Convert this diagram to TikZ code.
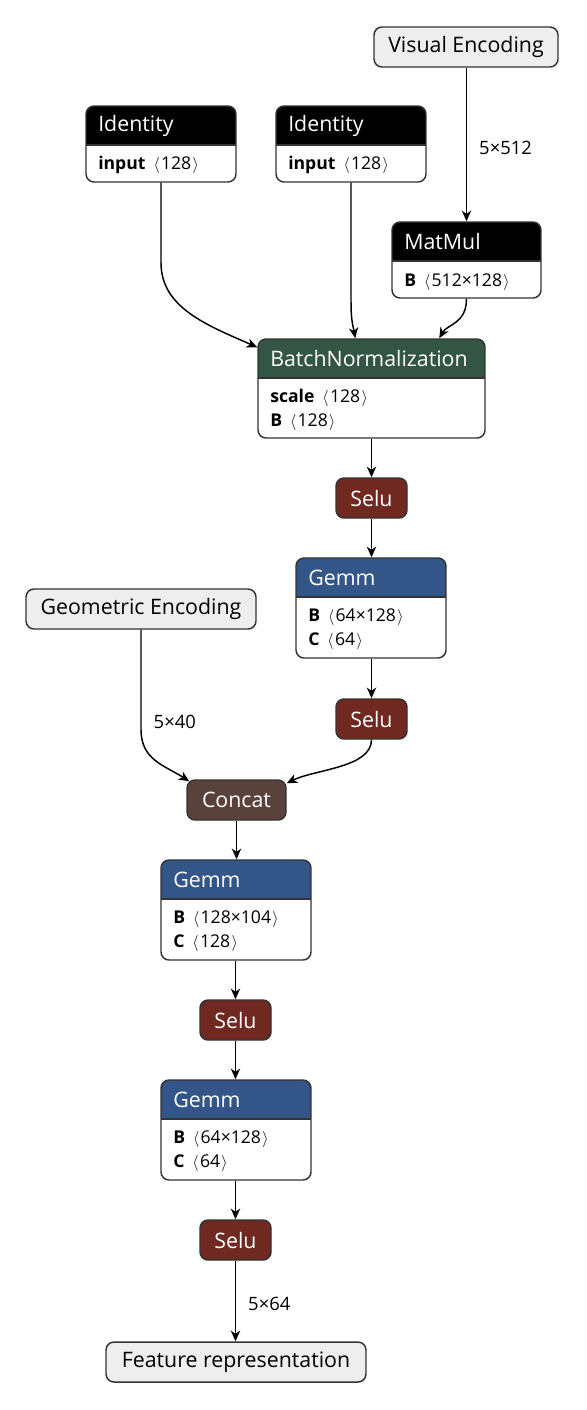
\documentclass[tikz,border=0pt]{standalone}
\usepackage{fontspec}
\setmainfont{Open Sans}
\usetikzlibrary{arrows.meta,fit,calc}
\definecolor{bord}{HTML}{333333}
\definecolor{inbg}{HTML}{EEEEEE}
\definecolor{layer}{RGB}{51,85,136}
\definecolor{norm}{RGB}{51,85,68}
\definecolor{act}{RGB}{112,41,33}
\definecolor{tens}{RGB}{89,66,59}
\newcommand\ttlfont{\fontsize{16}{19}\selectfont}
\newcommand\attfont{\fontsize{13.2}{16}\selectfont}
\newcommand\lblfont{\fontsize{13.8}{16}\selectfont}
\newcommand\lbr{\hspace{6pt}$\langle$\hspace{1pt}}
\newcommand\rbr{\hspace{1pt}$\rangle$}
% name x1 y1 x2 y2 color title
\newcommand\opbox[7]{%
  \fill[white, rounded corners=6pt] (#2,#3) rectangle (#4,#5);
  \begin{scope}
    \clip[rounded corners=6pt] (#2,#3) rectangle (#4,#5);
    \fill[#6] (#2,#3) rectangle (#4,{#3+39});
  \end{scope}
  \draw[bord, line width=1.1pt] (#2,{#3+39}) -- (#4,{#3+39});
  \node[boxline, fit={(#2,#3) (#4,#5)}] (#1) {};
  \node[ttl] at ({#2+12},{#3+19.5}) {#7};
}
% name x1 y1 x2 y2 color text color
\newcommand\smallbox[8]{%
  \node[boxline, fill=#6, fit={(#2,#3) (#4,#5)}] (#1) {};
  \node[font=\ttlfont, text=#8, inner sep=0] at (#1.center) {#7};
}
\tikzset{
  boxline/.style={draw=bord, line width=1.1pt, rounded corners=6pt, inner sep=0pt},
  ttl/.style={text=white, font=\ttlfont, anchor=west, inner sep=0pt},
  att/.style={text=black, font=\attfont, anchor=west, inner sep=0pt},
  edge/.style={draw=black, line width=1.1pt, -{Stealth[length=8pt,width=7pt,inset=2.5pt]}},
  elabel/.style={font=\lblfont, inner sep=0pt, anchor=west},
}
\begin{document}
\begin{tikzpicture}[x=0.75pt,y=-0.75pt]
\useasboundingbox (0,0) rectangle (586,1410);
\fill[white] (0,0) rectangle (586,1410);

% inputs
\smallbox{vis}{374}{27}{558}{67}{inbg}{Visual Encoding}{black}
\smallbox{geo}{26}{589}{256}{629}{inbg}{Geometric Encoding}{black}
\smallbox{feat}{106}{1342}{366}{1382}{inbg}{Feature representation}{black}

% op boxes
\opbox{id1}{86}{106}{236}{182}{black}{Identity}
\node[att] at (98,165) {\textbf{input}\lbr128\rbr};
\opbox{id2}{276}{106}{426}{182}{black}{Identity}
\node[att] at (288,165) {\textbf{input}\lbr128\rbr};
\opbox{mm}{392}{222}{541}{298}{black}{MatMul}
\node[att] at (404,282) {\textbf{B}\lbr512×128\rbr};
\opbox{bn}{258}{339}{485}{438}{norm}{BatchNormalization}
\node[att] at (270,398) {\textbf{scale}\lbr128\rbr};
\node[att] at (270,422) {\textbf{B}\lbr128\rbr};
\smallbox{s1}{336}{478}{407}{518}{act}{Selu}{white}
\opbox{g1}{296}{558}{446}{658}{layer}{Gemm}
\node[att] at (308,617) {\textbf{B}\lbr64×128\rbr};
\node[att] at (308,641) {\textbf{C}\lbr64\rbr};
\smallbox{s2}{336}{699}{407}{739}{act}{Selu}{white}
\smallbox{cat}{187}{780}{286}{820}{tens}{Concat}{white}
\opbox{g2}{161}{860}{311}{960}{layer}{Gemm}
\node[att] at (173,919) {\textbf{B}\lbr128×104\rbr};
\node[att] at (173,943) {\textbf{C}\lbr128\rbr};
\smallbox{s3}{200}{1000}{271}{1040}{act}{Selu}{white}
\opbox{g3}{161}{1080}{311}{1180}{layer}{Gemm}
\node[att] at (173,1139) {\textbf{B}\lbr64×128\rbr};
\node[att] at (173,1163) {\textbf{C}\lbr64\rbr};
\smallbox{s4}{200}{1220}{271}{1260}{act}{Selu}{white}

% edges
\draw[edge] (vis.south -| mm.north) -- node[elabel, pos=0.52, xshift=9pt] {5×512} (mm.north);
\draw[edge] (id1.south) -- ++(0,80) .. controls +(0,45) and +(-50,-22) .. ($(bn.north west)+(0,9)$);
\draw[edge] (id2.south) -- ++(0,118) .. controls +(0,22) and +(-2,-12) .. ($(bn.north west)+(98,0)$);
\draw[edge] (mm.south) .. controls +(0,25) and +(8,-14) .. ($(bn.north west)+(182,0)$);
\draw[edge] (bn.south -| s1.north) -- (s1.north);
\draw[edge] (s1.south) -- (s1.south |- g1.north);
\draw[edge] (g1.south -| s2.north) -- (s2.north);
\draw[edge] (geo.south) -- ++(0,100) node[elabel, pos=0.92, xshift=9pt] {5×40} .. controls +(0,30) and +(-25,-16) .. ($(cat.north west)+(3,2)$);
\draw[edge] (s2.south) .. controls +(0,28) and +(28,-14) .. ($(cat.north east)+(0,4)$);
\draw[edge] (cat.south) -- (cat.south |- g2.north);
\draw[edge] (g2.south -| s3.north) -- (s3.north);
\draw[edge] (s3.south) -- (s3.south |- g3.north);
\draw[edge] (g3.south -| s4.north) -- (s4.north);
\draw[edge] (s4.south) -- node[elabel, pos=0.53, xshift=9pt] {5×64} (s4.south |- feat.north);
\end{tikzpicture}
\end{document}
